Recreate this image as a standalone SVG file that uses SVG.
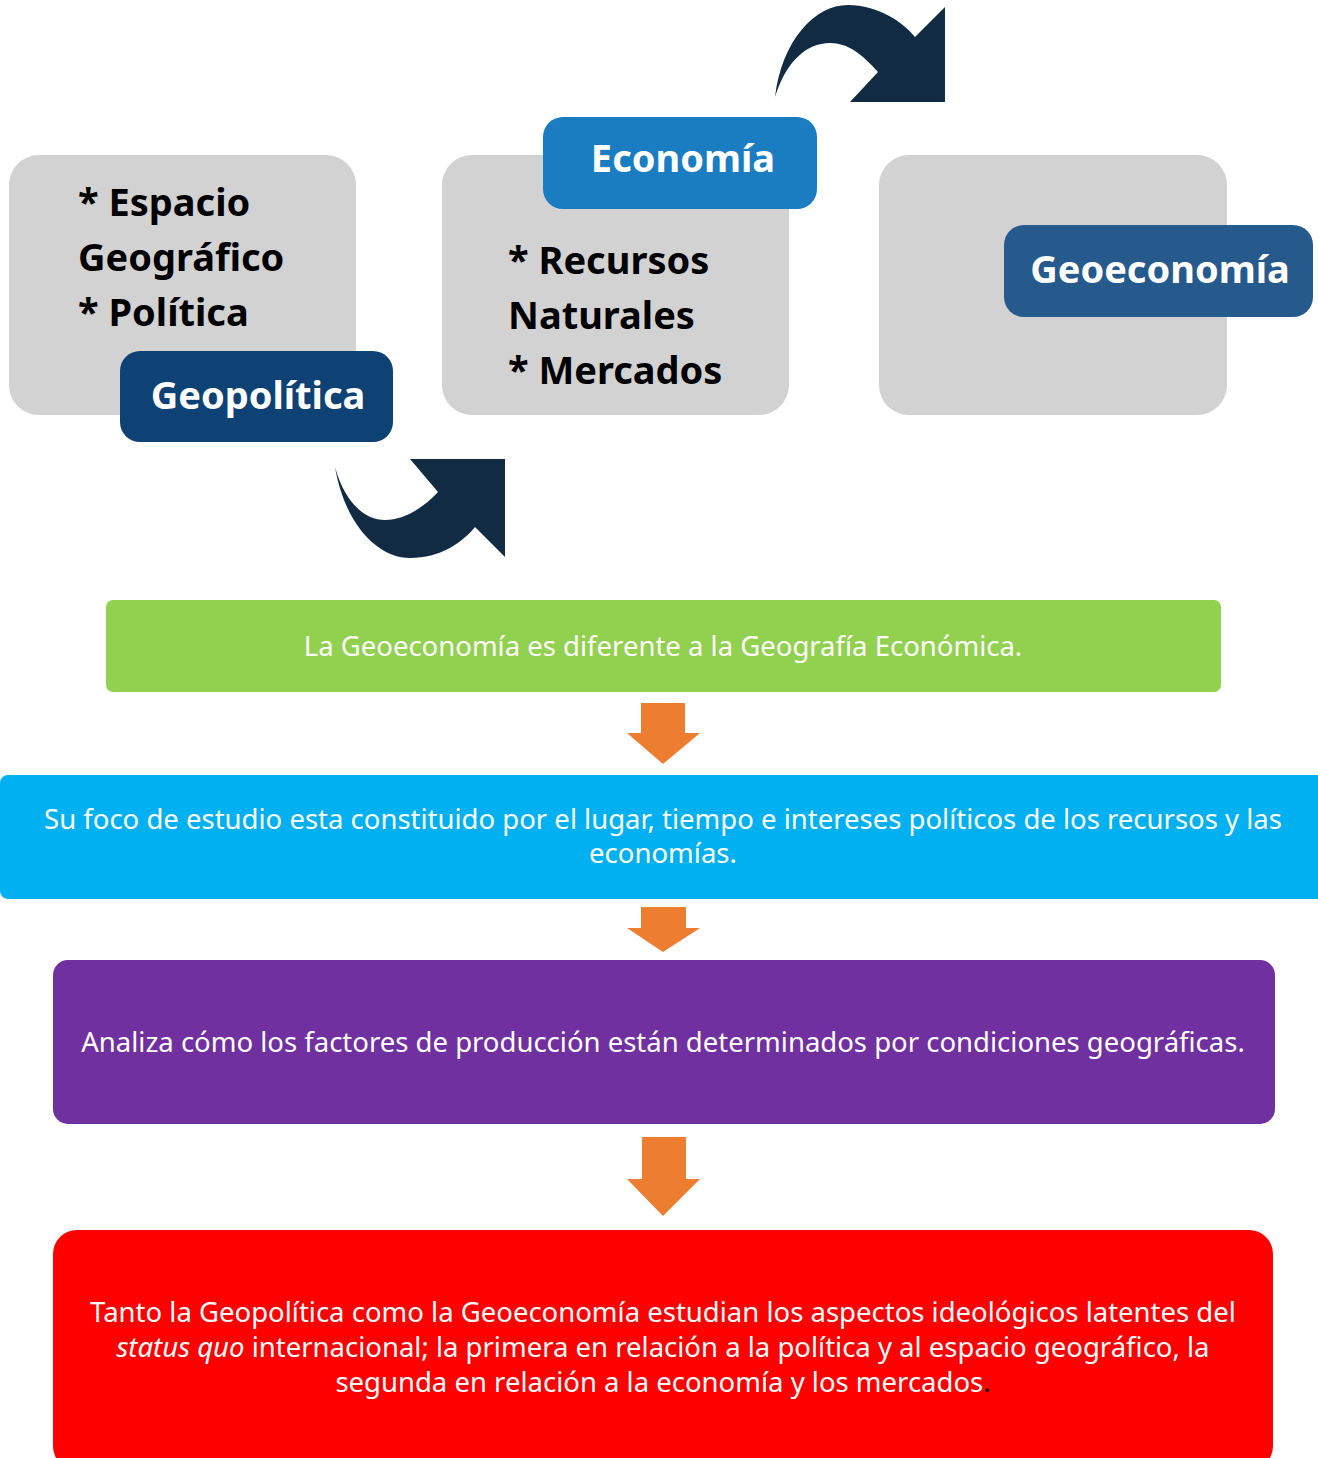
<svg xmlns="http://www.w3.org/2000/svg" width="1318" height="1458" viewBox="0 0 1318 1458">
<style>
.card{fill:#D3D2D3}
.lbl{font-family:"Noto Sans","Open Sans",sans-serif;font-weight:bold;font-size:38px;fill:#FFFFFF;text-anchor:middle}
.item{font-family:"Noto Sans","Open Sans",sans-serif;font-weight:bold;font-size:38px;fill:#000000}
.body{font-family:"Noto Sans","Open Sans",sans-serif;font-size:27.5px;fill:#FFFFFF;text-anchor:middle}
.curve{fill:#112B43}
.down{fill:#ED7D31}
</style>
<rect width="1318" height="1458" fill="#FFFFFF"/>
<g id="connectors">
<path class="curve" d="M775,97 C782,40 815,5 848,5 C878,5 903,22 915,37 L945,7 L945,102 L850,102 L878,72 C862,54 848,43 830,43 C806,43 786,62 775,97 Z"/>
<path class="curve" d="M335,467 C345,525 378,558 410,558 C440,558 462,543 475,527 L505,557 L505,459 L410,459 L438,492 C420,511 402,520 385,520 C363,520 344,500 335,467 Z"/>
<path class="down" d="M641,703 L685,703 L685,733 L700,733 L663,764 L627,733 L641,733 Z"/>
<path class="down" d="M641,907 L686,907 L686,928 L700,928 L663,952 L627,928 L641,928 Z"/>
<path class="down" d="M642,1137 L686,1137 L686,1179 L700,1179 L663,1216 L627,1179 L642,1179 Z"/>
</g>
<g id="geopolitica">
<rect class="card" x="9" y="155" width="347" height="260" rx="30"/>
<text class="item" x="78" y="216">* Espacio</text>
<text class="item" x="78" y="271">Geográfico</text>
<text class="item" x="78" y="326">* Política</text>
<rect x="120" y="351" width="273" height="91" rx="20" fill="#0E4275"/>
<text class="lbl" x="258" y="409">Geopolítica</text>
</g>
<g id="economia">
<rect class="card" x="442" y="155" width="347" height="260" rx="30"/>
<text class="item" x="508" y="274">* Recursos</text>
<text class="item" x="508" y="329">Naturales</text>
<text class="item" x="508" y="384">* Mercados</text>
<rect x="543" y="117" width="274" height="92" rx="20" fill="#1A7CC1"/>
<text class="lbl" x="683" y="172">Economía</text>
</g>
<g id="geoeconomia">
<rect class="card" x="879" y="155" width="348" height="260" rx="30"/>
<rect x="1004" y="225" width="309" height="92" rx="20" fill="#265A8D"/>
<text class="lbl" x="1160" y="283">Geoeconomía</text>
</g>
<g id="diferente">
<rect x="106" y="600" width="1115" height="92" rx="7" fill="#92D050"/>
<text class="body" x="663" y="656">La Geoeconomía es diferente a la Geografía Económica.</text>
</g>
<g id="foco">
<rect x="0" y="775" width="1330" height="124" rx="8" fill="#00B0F0"/>
<text class="body" x="663" y="829">Su foco de estudio esta constituido por el lugar, tiempo e intereses políticos de los recursos y las</text>
<text class="body" x="663" y="863">economías.</text>
</g>
<g id="analiza">
<rect x="53" y="960" width="1222" height="164" rx="15" fill="#7030A0"/>
<text class="body" x="663" y="1052">Analiza cómo los factores de producción están determinados por condiciones geográficas.</text>
</g>
<g id="tanto">
<rect x="53" y="1230" width="1220" height="240" rx="24" fill="#FF0000"/>
<text class="body" x="663" y="1322">Tanto la Geopolítica como la Geoeconomía estudian los aspectos ideológicos latentes del</text>
<text class="body" x="663" y="1357"><tspan font-style="italic">status quo</tspan> internacional; la primera en relación a la política y al espacio geográfico, la</text>
<text class="body" x="663" y="1392">segunda en relación a la economía y los mercados<tspan fill="#000000">.</tspan></text>
</g>
</svg>
